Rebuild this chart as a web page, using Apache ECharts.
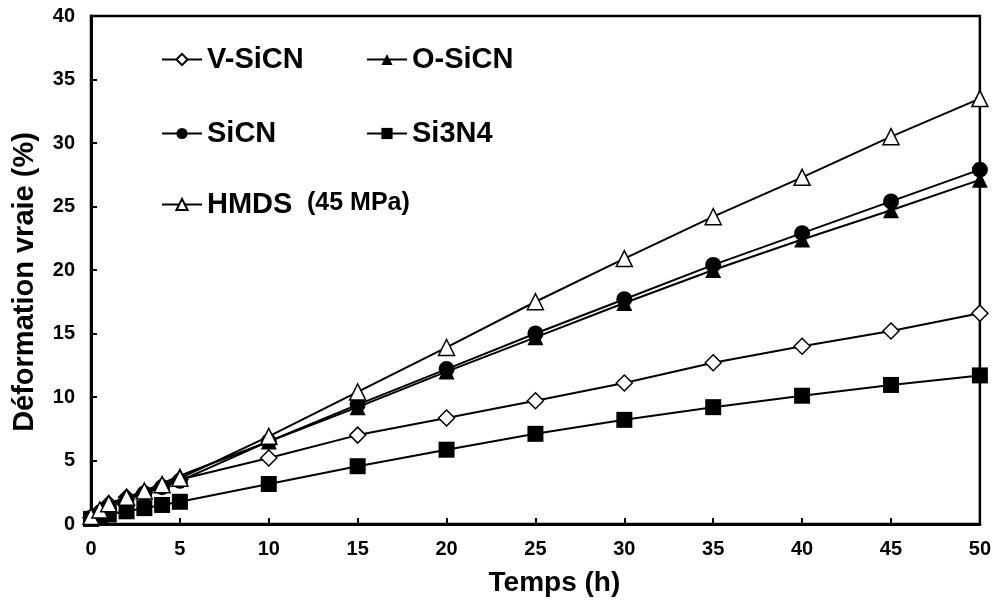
<!DOCTYPE html>
<html>
<head>
<meta charset="utf-8">
<script src="https://cdn.jsdelivr.net/npm/echarts@6/dist/echarts.min.js"></script>
<style>html,body{margin:0;padding:0;background:#fff}#c{width:994px;height:611px}</style>
</head>
<body>
<div id="c"></div>
<script>
var times = [0, 0.5, 1, 2, 3, 4, 5, 10, 15, 20, 25, 30, 35, 40, 45, 50];
var vSiCN = [0.5, 1.0, 1.6, 2.1, 2.5, 3.0, 3.5, 5.2, 7.0, 8.35, 9.7, 11.1, 12.7, 14.0, 15.2, 16.6];
var oSiCN = [0.5, 1.0, 1.4, 2.0, 2.6, 3.2, 3.8, 6.5, 9.2, 12.0, 14.7, 17.4, 20.0, 22.4, 24.7, 27.1];
var siCN = [0.5, 0.9, 1.3, 1.9, 2.4, 2.9, 3.4, 6.5, 9.4, 12.2, 15.0, 17.7, 20.4, 22.9, 25.4, 27.9];
var si3N4 = [0.4, 0.55, 0.75, 1.0, 1.25, 1.5, 1.75, 3.15, 4.55, 5.85, 7.1, 8.2, 9.2, 10.1, 10.95, 11.7];
var hmds = [0.6, 1.1, 1.6, 2.1, 2.6, 3.1, 3.6, 6.9, 10.4, 13.9, 17.5, 20.9, 24.2, 27.3, 30.5, 33.5];
var xTicks = [0, 5, 10, 15, 20, 25, 30, 35, 40, 45, 50];
var yTicks = [0, 5, 10, 15, 20, 25, 30, 35, 40];

function pairs(ys){ return times.map(function(t,i){ return [t, ys[i]]; }); }
var F = 'Liberation Sans, Arial, sans-serif';
function mk(name, ys, symbol, size, open){
  return {
    name: name, type: 'line', data: pairs(ys), symbol: symbol, symbolSize: size,
    showAllSymbol: true, animation: false,
    lineStyle: {color: '#000', width: 2},
    itemStyle: {color: open ? '#fff' : '#000', borderColor: '#000', borderWidth: open ? 1.5 : 0}
  };
}
function leg(name, left, top){
  return {
    data: [name], left: left, top: top, itemWidth: 40, itemHeight: 14, itemGap: 0, padding: 0,
    selectedMode: false,
    textStyle: {fontFamily: F, fontWeight: 'bold', fontSize: 29, color: '#000'}
  };
}
var chart = echarts.init(document.getElementById('c'), null, {renderer: 'canvas'});
chart.setOption({
  animation: false,
  backgroundColor: '#fff',
  grid: {left: 91, right: 13, top: 16, bottom: 87, show: true, borderColor: '#000', borderWidth: 2.5, backgroundColor: 'transparent'},
  legend: [leg('V-SiCN', 161, 45), leg('O-SiCN', 366, 45), leg('SiCN', 161, 119), leg('Si3N4', 366, 119), leg('HMDS', 161, 190)],
  graphic: [{type: 'text', left: 307, top: 191, style: {text: '(45 MPa)', font: 'bold 25px Liberation Sans, Arial, sans-serif', fill: '#000'}}],
  xAxis: {
    type: 'value', min: 0, max: 50, interval: 5,
    name: 'Temps (h)', nameLocation: 'middle', nameGap: 45,
    nameTextStyle: {fontFamily: F, fontWeight: 'bold', fontSize: 28, color: '#000', padding: [0,0,0,38]},
    axisLine: {lineStyle: {color: '#000', width: 3}},
    axisTick: {inside: true, length: 6, lineStyle: {color: '#000', width: 2}},
    axisLabel: {fontFamily: F, fontWeight: 'bold', fontSize: 20, color: '#000', margin: 15,
      formatter: function(v){ return xTicks.indexOf(v) >= 0 ? String(v) : ''; }},
    splitLine: {show: false}
  },
  yAxis: {
    type: 'value', min: 0, max: 40, interval: 5,
    name: 'Déformation vraie (%)', nameLocation: 'middle', nameGap: 52,
    nameTextStyle: {fontFamily: F, fontWeight: 'bold', fontSize: 29, color: '#000', padding: [0,24,0,0]},
    axisLine: {lineStyle: {color: '#000', width: 3}},
    axisTick: {inside: true, length: 6, lineStyle: {color: '#000', width: 2}},
    axisLabel: {fontFamily: F, fontWeight: 'bold', fontSize: 20, color: '#000', margin: 16,
      formatter: function(v){ return yTicks.indexOf(v) >= 0 ? String(v) : ''; }},
    splitLine: {show: false}
  },
  series: [
    mk('V-SiCN', vSiCN, 'diamond', 16, true),
    mk('O-SiCN', oSiCN, 'triangle', 16, false),
    mk('SiCN', siCN, 'circle', 16, false),
    mk('Si3N4', si3N4, 'rect', 16, false),
    mk('HMDS', hmds, 'triangle', 16, true)
  ]
});
</script>
</body>
</html>
